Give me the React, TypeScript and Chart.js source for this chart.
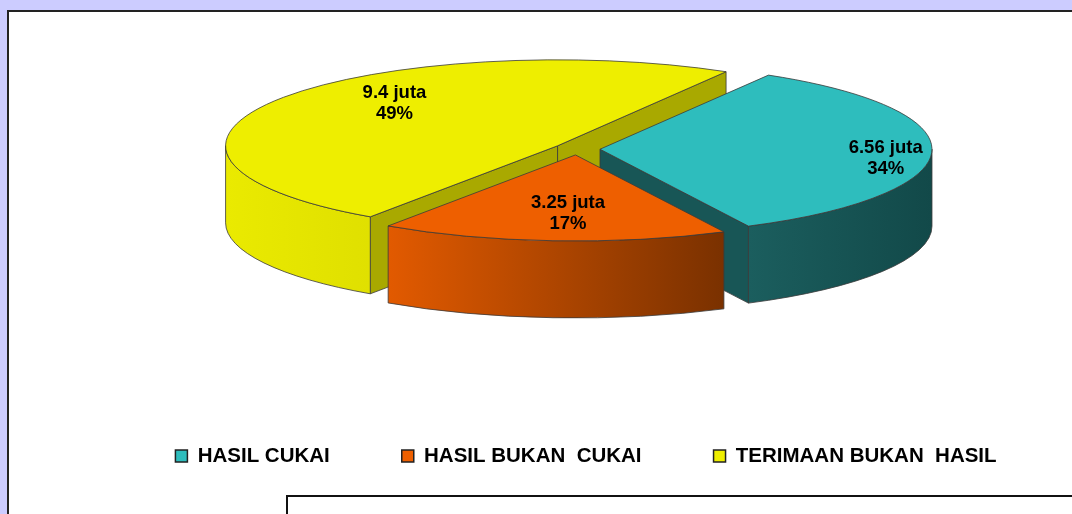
import React, { useEffect, useRef } from 'react';
import { Chart, registerables } from 'chart.js';

Chart.register(...registerables);

// ---- data ----
const categories = ['HASIL CUKAI', 'HASIL BUKAN  CUKAI', 'TERIMAAN BUKAN  HASIL'];
const values = [6.56, 3.25, 9.4];
const unitLabel = 'juta';

// ---- styles ----
const topColors = ['#2EBDBD', '#EE5F00', '#EEEE00'];
const faceColors = ['#185656', '#9A3E00', '#A9A900'];
const wallGradients = [
  ['#1B5E5E', '#124949'],
  ['#E25A00', '#7A3100'],
  ['#EAEA00', '#E0E000'],
];
// label placement: fraction of radius, angular shift (degrees)
const labelRadius = [0.867, 0.675, 0.7];
const labelShift = [5, -2, 13];
const FLAT = 0.259;
const DEPTH = 77;
const EDGE = '#3a3a3a';
const FONT = "'Liberation Sans', Arial, Helvetica, sans-serif";

const pie3d = {
  id: 'pie3d',
  beforeDatasetsDraw(chart: any) {
    const ctx: CanvasRenderingContext2D = chart.ctx;
    const meta = chart.getDatasetMeta(0);
    const ds = chart.data.datasets[0];
    const total = (ds.data as number[]).reduce((a, b) => a + b, 0);
    const items = meta.data.map((el: any, i: number) => {
      const p = el.getProps(['x', 'y', 'startAngle', 'endAngle', 'outerRadius'], true);
      const off = el.options.offset || 0;
      const mid = (p.startAngle + p.endAngle) / 2;
      return {
        i,
        s: p.startAngle,
        e: p.endAngle,
        mid,
        cx: p.x + Math.cos(mid) * off,
        cy: p.y + FLAT * Math.sin(mid) * off,
        rx: p.outerRadius,
        ry: p.outerRadius * FLAT,
      };
    });
    const order = items.slice().sort((a: any, b: any) => Math.sin(a.mid) - Math.sin(b.mid));
    ctx.save();
    ctx.lineWidth = 0.8;
    ctx.strokeStyle = EDGE;
    ctx.lineJoin = 'round';
    order.forEach((it: any) => {
      const P = (t: number, dy = 0) => [it.cx + it.rx * Math.cos(t), it.cy + it.ry * Math.sin(t) + dy];
      // radial faces
      const faces: number[] = [];
      if (Math.cos(it.s) < 0) faces.push(it.s);
      if (Math.cos(it.e) > 0) faces.push(it.e);
      faces.forEach((t) => {
        const [px, py] = P(t);
        ctx.beginPath();
        ctx.moveTo(it.cx, it.cy);
        ctx.lineTo(px, py);
        ctx.lineTo(px, py + DEPTH);
        ctx.lineTo(it.cx, it.cy + DEPTH);
        ctx.closePath();
        ctx.fillStyle = faceColors[it.i];
        ctx.fill();
        ctx.stroke();
      });
      // outer curved wall (front half only)
      for (let n = -2; n <= 2; n++) {
        const a0 = n * 2 * Math.PI;
        const a1 = a0 + Math.PI;
        const t1 = Math.max(it.s, a0);
        const t2 = Math.min(it.e, a1);
        if (t2 <= t1) continue;
        const [x1, y1] = P(t1);
        const [x2, y2] = P(t2);
        const g = ctx.createLinearGradient(Math.min(x1, x2), 0, Math.max(x1, x2), 0);
        g.addColorStop(0, wallGradients[it.i][0]);
        g.addColorStop(1, wallGradients[it.i][1]);
        ctx.beginPath();
        ctx.ellipse(it.cx, it.cy, it.rx, it.ry, 0, t1, t2, false);
        ctx.lineTo(x2, y2 + DEPTH);
        ctx.ellipse(it.cx, it.cy + DEPTH, it.rx, it.ry, 0, t2, t1, true);
        ctx.lineTo(x1, y1);
        ctx.closePath();
        ctx.fillStyle = g;
        ctx.fill();
        ctx.stroke();
      }
      // top
      ctx.beginPath();
      ctx.moveTo(it.cx, it.cy);
      ctx.ellipse(it.cx, it.cy, it.rx, it.ry, 0, it.s, it.e, false);
      ctx.closePath();
      ctx.fillStyle = (ds.backgroundColor as string[])[it.i];
      ctx.fill();
      ctx.stroke();
    });
    // labels
    ctx.font = `bold 18.5px ${FONT}`;
    ctx.textAlign = 'center';
    ctx.textBaseline = 'middle';
    ctx.fillStyle = '#000';
    items.forEach((it: any) => {
      const r = labelRadius[it.i];
      const a = it.mid + (labelShift[it.i] * Math.PI) / 180;
      const x = it.cx + r * it.rx * Math.cos(a);
      const y = it.cy + r * it.ry * Math.sin(a);
      const v = (ds.data as number[])[it.i];
      const pct = Math.round((v / total) * 100) + '%';
      ctx.fillText(`${v} ${unitLabel}`, x, y - 10.5);
      ctx.fillText(pct, x, y + 10.5);
    });
    ctx.restore();
    return false;
  },
};

export default function App() {
  const ref = useRef<HTMLCanvasElement>(null);
  useEffect(() => {
    if (!ref.current) return;
    const chart = new Chart(ref.current, {
      type: 'pie',
      data: {
        labels: categories,
        datasets: [
          {
            data: values,
            backgroundColor: topColors,
            borderColor: '#222',
            borderWidth: 1.5,
            offset: 23,
            radius: 332,
            rotation: 30.5,
          } as any,
        ],
      },
      options: {
        responsive: false,
        animation: false,
        events: [],
        rotation: 30.5,
        layout: { padding: { left: 100, right: 0, top: 24.25, bottom: 37.75 } },
        plugins: {
          legend: {
            position: 'bottom',
            labels: {
              boxWidth: 12,
              boxHeight: 12,
              padding: 72,
              color: '#000',
              font: { family: FONT, size: 20.5, weight: 'bold' },
            },
          },
          title: {
            display: true,
            position: 'right',
            fullSize: false,
            text: ' ',
            color: 'rgba(0,0,0,0)',
            font: { size: 2 },
            padding: { top: 0, bottom: 15.6 },
          },
          tooltip: { enabled: false },
        },
      } as any,
      plugins: [pie3d as any],
    });
    return () => chart.destroy();
  }, []);

  return (
    <div
      style={{
        position: 'fixed',
        left: 0,
        top: 0,
        width: 1072,
        height: 514,
        background: '#CCCCFF',
        overflow: 'hidden',
      }}
    >
      <div
        style={{
          position: 'absolute',
          left: 7,
          top: 10,
          width: 1200,
          height: 700,
          background: '#fff',
          borderLeft: '2px solid #222',
          borderTop: '2px solid #222',
        }}
      />
      <div
        style={{
          position: 'absolute',
          left: 286,
          top: 495,
          width: 1000,
          height: 200,
          background: '#fff',
          border: '2px solid #111',
        }}
      />
      <canvas
        ref={ref}
        width={1072}
        height={614}
        style={{ position: 'absolute', left: 0, top: -100, width: 1072, height: 614 }}
      />
    </div>
  );
}
